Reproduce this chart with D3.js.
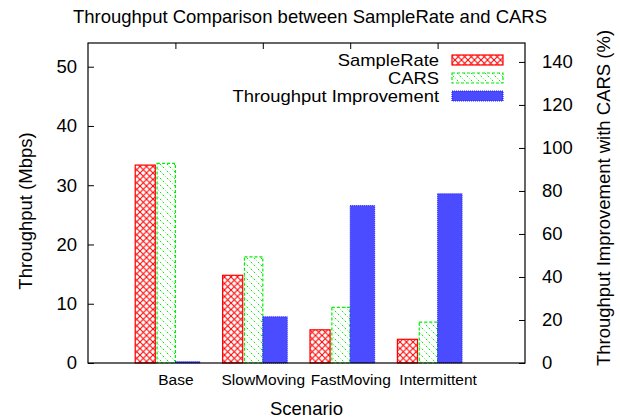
<!DOCTYPE html>
<html>
<head>
<meta charset="utf-8">
<script src="https://cdn.jsdelivr.net/npm/d3@7"></script>
<style>
  body { margin: 0; background: #fff; }
  text { font-family: "Liberation Sans", Arial, sans-serif; fill: #000; }
</style>
</head>
<body>
<div id="chart"></div>
<script>
// data
var scenarios = ["Base", "SlowMoving", "FastMoving", "Intermittent"];
var sampleRate = [33.4, 14.8, 5.6, 4.0];
var cars = [33.7, 17.9, 9.4, 6.9];
var improvement = [0.6, 21.5, 73.2, 78.7];
var leftTicks = [0, 10, 20, 30, 40, 50];
var rightTicks = [0, 20, 40, 60, 80, 100, 120, 140];

var width = 620, height = 420;
var margin = { top: 43, right: 95, bottom: 57, left: 88 };
var w = width - margin.left - margin.right,
    h = height - margin.top - margin.bottom;
var FONT = "Liberation Sans, Arial, sans-serif";
var big = 18.5;

var svg = d3.select("#chart").append("svg")
  .attr("width", width)
  .attr("height", height);

// patterns
var defs = svg.append("defs");
var cross = defs.append("pattern")
  .attr("id", "cross")
  .attr("patternUnits", "userSpaceOnUse")
  .attr("width", 6.5).attr("height", 6.5);
cross.append("rect").attr("width", 6.5).attr("height", 6.5).attr("fill", "#fff");
cross.append("path")
  .attr("d", "M0,0L6.5,6.5M6.5,0L0,6.5")
  .attr("stroke", "#ff0000").attr("stroke-width", 1.1);

var diag = defs.append("pattern")
  .attr("id", "diag")
  .attr("patternUnits", "userSpaceOnUse")
  .attr("width", 7).attr("height", 7);
diag.append("rect").attr("width", 7).attr("height", 7).attr("fill", "#fff");
diag.append("path")
  .attr("d", "M-1,-1L8,8")
  .attr("stroke", "#00ee00").attr("stroke-width", 1)
  .attr("stroke-dasharray", "2,2");

var g = svg.append("g")
  .attr("transform", "translate(" + margin.left + "," + margin.top + ")");

// scales
var x = d3.scaleLinear().domain([-1, scenarios.length]).range([0, w]);
var y = d3.scaleLinear().domain([0, 54]).range([h, 0]);
var y2 = d3.scaleLinear().domain([0, 148.8]).range([h, 0]);

// bars
g.selectAll(".sr").data(sampleRate).enter().append("rect")
  .attr("class", "sr")
  .attr("x", function(d, i) { return x(i - 0.46); })
  .attr("width", x(0.23) - x(0))
  .attr("y", function(d) { return y(d); })
  .attr("height", function(d) { return h - y(d); })
  .attr("fill", "url(#cross)")
  .attr("stroke", "#ff0000").attr("stroke-width", 1.2);

g.selectAll(".cars").data(cars).enter().append("rect")
  .attr("class", "cars")
  .attr("x", function(d, i) { return x(i - 0.21); })
  .attr("width", x(0.21) - x(0))
  .attr("y", function(d) { return y(d); })
  .attr("height", function(d) { return h - y(d); })
  .attr("fill", "url(#diag)")
  .attr("stroke", "#00ee00").attr("stroke-width", 1.2)
  .attr("stroke-dasharray", "3,2");

g.selectAll(".imp").data(improvement).enter().append("rect")
  .attr("class", "imp")
  .attr("x", function(d, i) { return x(i); })
  .attr("width", x(0.28) - x(0))
  .attr("y", function(d) { return y2(d); })
  .attr("height", function(d) { return h - y2(d); })
  .attr("fill", "#4b4bff")
  .attr("stroke", "#2020ff").attr("stroke-width", 1)
  .attr("stroke-dasharray", "1,1");

// frame
g.append("rect")
  .attr("width", w).attr("height", h)
  .attr("fill", "none").attr("stroke", "#000").attr("stroke-width", 1.2);

// left axis
var yAxis = g.append("g")
  .call(d3.axisLeft(y).tickValues(leftTicks).tickSize(-6).tickPadding(11));
yAxis.select(".domain").remove();
yAxis.selectAll("text").attr("font-size", big).attr("font-family", FONT);

// right axis
var y2Axis = g.append("g")
  .attr("transform", "translate(" + w + ",0)")
  .call(d3.axisRight(y2).tickValues(rightTicks).tickSize(-6).tickPadding(17));
y2Axis.select(".domain").remove();
y2Axis.selectAll("text").attr("font-size", big).attr("font-family", FONT);

// top ticks at categories
var topAxis = g.append("g")
  .call(d3.axisTop(x).tickValues(d3.range(scenarios.length)).tickSize(-6).tickFormat(""));
topAxis.select(".domain").remove();

// bottom category labels
var xAxis = g.append("g")
  .attr("transform", "translate(0," + h + ")")
  .call(d3.axisBottom(x).tickValues(d3.range(scenarios.length)).tickSize(0).tickPadding(11)
    .tickFormat(function(i) { return scenarios[i]; }));
xAxis.select(".domain").remove();
xAxis.selectAll("text").attr("font-size", 15.5).attr("font-family", FONT);

// titles
svg.append("text")
  .attr("x", 310).attr("y", 23)
  .attr("text-anchor", "middle")
  .attr("font-size", big)
  .text("Throughput Comparison between SampleRate and CARS");

svg.append("text")
  .attr("x", margin.left + w / 2).attr("y", 415)
  .attr("text-anchor", "middle")
  .attr("font-size", big)
  .text("Scenario");

svg.append("text")
  .attr("transform", "translate(32,211) rotate(-90)")
  .attr("text-anchor", "middle")
  .attr("font-size", big)
  .text("Throughput (Mbps)");

svg.append("text")
  .attr("transform", "translate(610,198) rotate(-90)")
  .attr("text-anchor", "middle")
  .attr("font-size", big)
  .text("Throughput Improvement with CARS (%)");

// legend
var legendItems = [
  { name: "SampleRate", fill: "url(#cross)", stroke: "#ff0000", dash: null },
  { name: "CARS", fill: "url(#diag)", stroke: "#00ee00", dash: "3,2" },
  { name: "Throughput Improvement", fill: "#4b4bff", stroke: "#2020ff", dash: "1,1" }
];
var lg = svg.append("g").selectAll("g").data(legendItems).enter().append("g")
  .attr("transform", function(d, i) { return "translate(0," + (60 + i * 18) + ")"; });
// slightly narrower glyph height with stretched width so rows don't collide
lg.append("text")
  .attr("transform", "translate(439,0) scale(1.15,1)")
  .attr("dy", "0.35em")
  .attr("text-anchor", "end")
  .attr("font-size", 16)
  .text(function(d) { return d.name; });
lg.append("rect")
  .attr("x", 452).attr("y", -5)
  .attr("width", 51).attr("height", 10)
  .attr("fill", function(d) { return d.fill; })
  .attr("stroke", function(d) { return d.stroke; })
  .attr("stroke-width", 1.2)
  .attr("stroke-dasharray", function(d) { return d.dash; });
</script>
</body>
</html>
